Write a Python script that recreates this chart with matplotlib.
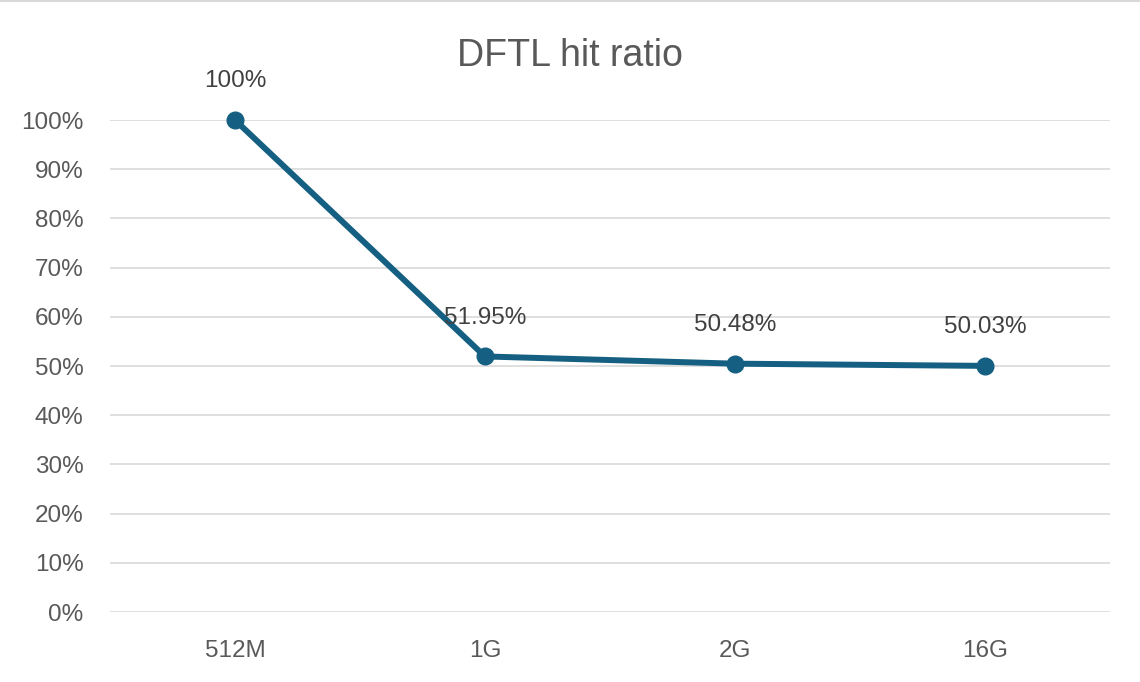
import matplotlib
matplotlib.use("Agg")
import matplotlib.pyplot as plt
from matplotlib.lines import Line2D

sizes = ["512M", "1G", "2G", "16G"]
hit_ratio = [100.0, 51.95, 50.48, 50.03]
point_labels = ["100%", "51.95%", "50.48%", "50.03%"]
y_ticks = list(range(0, 101, 10))

plt.rcParams['font.family'] = ['Liberation Sans', 'DejaVu Sans']
text_color = "#595959"
line_color = "#156082"

fig = plt.figure(figsize=(11.4, 6.82), dpi=100)
ax = fig.add_axes([0.0965, 0.1026, 0.877, 0.7214])

x = list(range(len(sizes)))
ax.plot(x, hit_ratio, color=line_color, linewidth=4.3, marker="o",
        markersize=12, solid_capstyle="round", zorder=3, clip_on=False)

for xi, yi, lab in zip(x, hit_ratio, point_labels):
    ax.annotate(lab, (xi, yi), xytext=(0, 20), textcoords="offset points",
                ha="center", va="bottom", fontsize=17.5, color="#404040")

ax.set_xlim(-0.5, len(sizes) - 0.5)
ax.set_ylim(0, 100)
ax.set_xticks(x)
ax.set_xticklabels(sizes)
ax.set_yticks(y_ticks)
ax.set_yticklabels([f"{v}%" for v in y_ticks])
ax.tick_params(axis="both", length=0, labelsize=17.5, labelcolor=text_color)
ax.tick_params(axis="x", pad=20)
ax.tick_params(axis="y", pad=19)
ax.grid(axis="y", color="#d9d9d9", linewidth=1.2)
ax.set_axisbelow(True)
for s in ax.spines.values():
    s.set_visible(False)

fig.text(0.5, 0.918, "DFTL hit ratio", ha="center", va="center",
         fontsize=27, color=text_color)

# thin border line at top of the chart area
fig.add_artist(Line2D([0, 1], [0.999, 0.999], transform=fig.transFigure,
                      color="#d9d9d9", linewidth=1.5))

fig.savefig("out.png", dpi=100)
